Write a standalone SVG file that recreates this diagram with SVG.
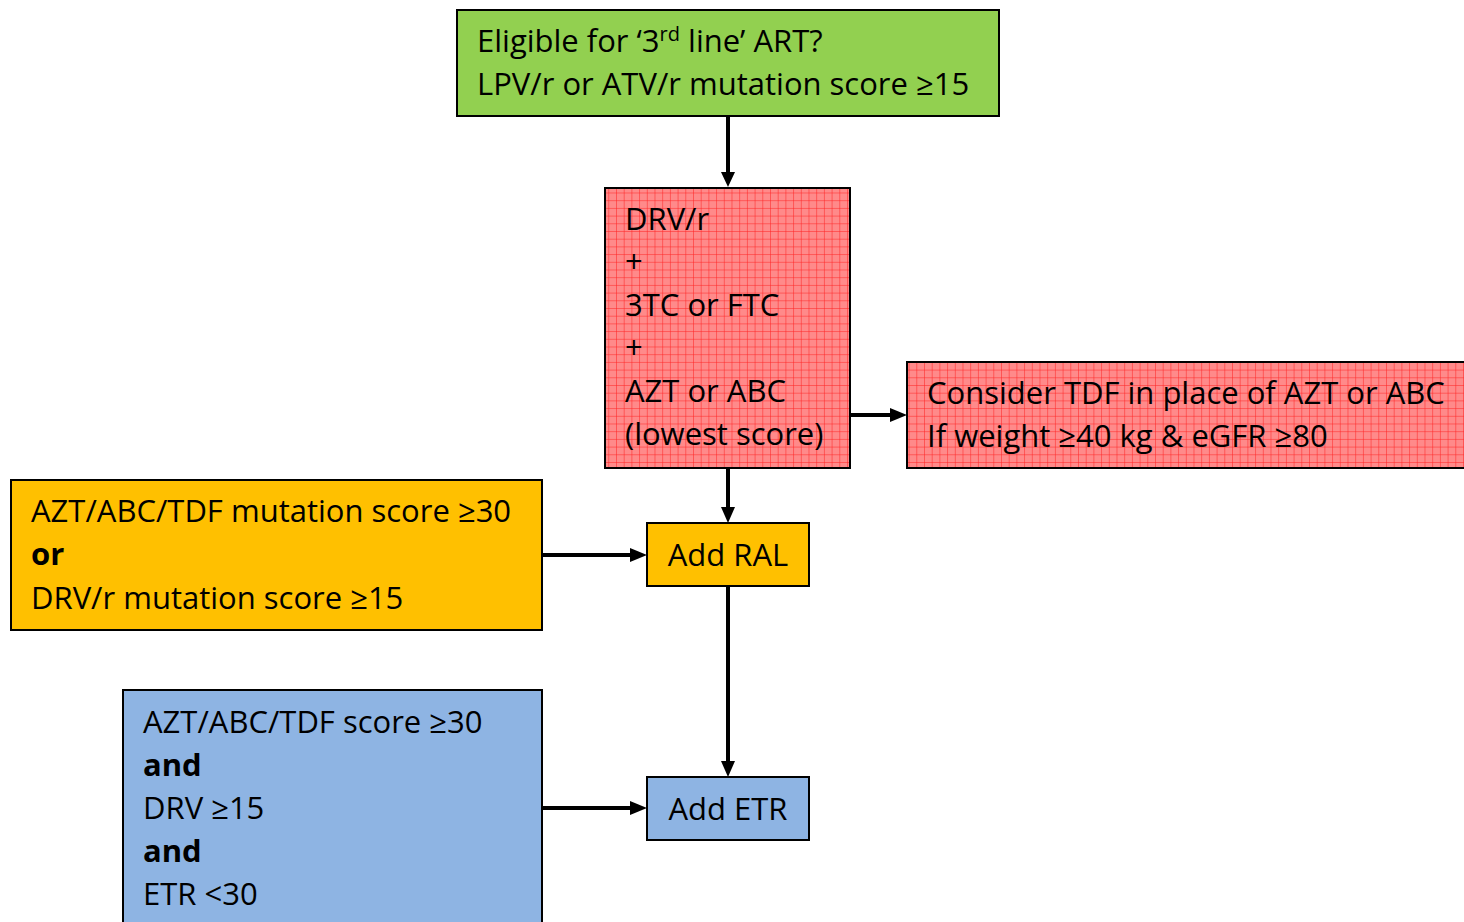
<svg xmlns="http://www.w3.org/2000/svg" width="1464" height="922" viewBox="0 0 1464 922">
<defs>
<pattern id="grid" width="7.7" height="7.7" patternUnits="userSpaceOnUse">
<rect width="7.7" height="7.7" fill="#ff8a8a"/>
<path d="M0 0H7.7M0 0V7.7" stroke="#ff2020" stroke-width="1" fill="none"/>
</pattern>
</defs>
<style>
.box{stroke:#000;stroke-width:2}
text{font-family:"Open Sans","Liberation Sans",Arial,sans-serif;font-size:31px;fill:#000}
.b{font-weight:bold}
.c{stroke:#000;stroke-width:4;fill:none}
.h{fill:#000}
</style>
<rect width="1464" height="922" fill="#fff"/>
<g id="connectors">
<path class="c" d="M728 117V175"/>
<path class="h" d="M721 172L728 187L735 172z"/>
<path class="c" d="M851 415H893"/>
<path class="h" d="M890 408L907 415L890 422z"/>
<path class="c" d="M728 469V510"/>
<path class="h" d="M721 507L728 523L735 507z"/>
<path class="c" d="M543 555H633"/>
<path class="h" d="M630 548L647 555L630 562z"/>
<path class="c" d="M728 587V764"/>
<path class="h" d="M721 761L728 777L735 761z"/>
<path class="c" d="M543 808H633"/>
<path class="h" d="M630 801L647 808L630 815z"/>
</g>
<g id="n-eligible">
<rect class="box" x="457" y="10" width="542" height="106" fill="#92d050"/>
<text x="477" y="52">Eligible for ‘3<tspan font-size="20" dy="-11">rd</tspan><tspan dy="11"> line’ ART?</tspan></text>
<text x="477" y="95">LPV/r or ATV/r mutation score ≥15</text>
</g>
<g id="n-drv">
<rect class="box" x="605" y="188" width="245" height="280" fill="url(#grid)"/>
<text x="625" y="230">DRV/r</text>
<text x="625" y="273">+</text>
<text x="625" y="316">3TC or FTC</text>
<text x="625" y="359">+</text>
<text x="625" y="402">AZT or ABC</text>
<text x="625" y="445">(lowest score)</text>
</g>
<g id="n-tdf">
<rect class="box" x="907" y="362" width="570" height="106" fill="url(#grid)"/>
<text x="927" y="404">Consider TDF in place of AZT or ABC</text>
<text x="927" y="447">If weight ≥40 kg &amp; eGFR ≥80</text>
</g>
<g id="n-ral">
<rect class="box" x="647" y="523" width="162" height="63" fill="#ffc000"/>
<text x="728" y="566" text-anchor="middle">Add RAL</text>
</g>
<g id="n-orange">
<rect class="box" x="11" y="480" width="531" height="150" fill="#ffc000"/>
<text x="31" y="522">AZT/ABC/TDF mutation score ≥30</text>
<text x="31" y="565" class="b">or</text>
<text x="31" y="609">DRV/r mutation score ≥15</text>
</g>
<g id="n-etr">
<rect class="box" x="647" y="777" width="162" height="63" fill="#8eb4e3"/>
<text x="728" y="820" text-anchor="middle">Add ETR</text>
</g>
<g id="n-blue">
<rect class="box" x="123" y="690" width="419" height="250" fill="#8eb4e3"/>
<text x="143" y="733">AZT/ABC/TDF score ≥30</text>
<text x="143" y="776" class="b">and</text>
<text x="143" y="819">DRV ≥15</text>
<text x="143" y="862" class="b">and</text>
<text x="143" y="905">ETR &lt;30</text>
</g>
</svg>
